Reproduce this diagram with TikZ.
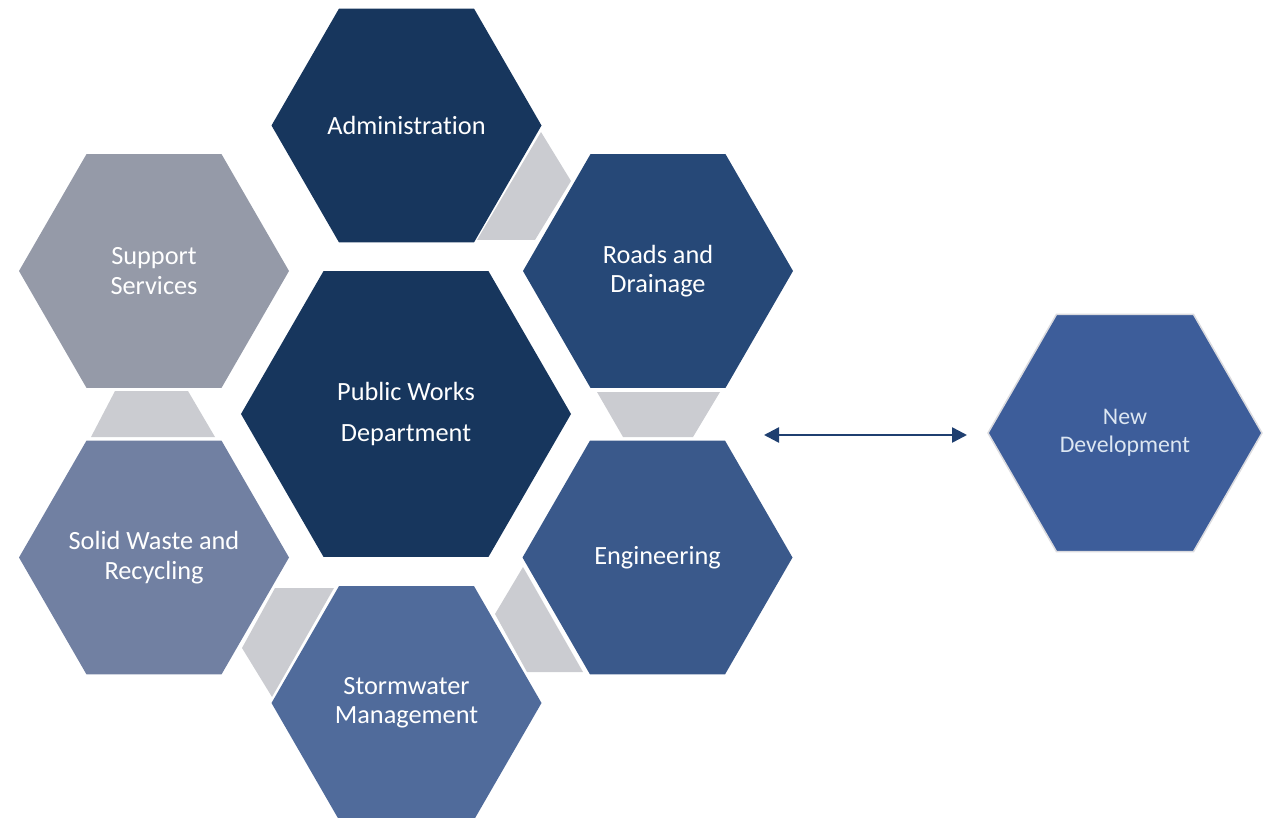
\documentclass[tikz,border=0pt]{standalone}
\usepackage{fontspec}
\setmainfont{Carlito}[Ligatures=NoCommon]
\usetikzlibrary{shapes.geometric,arrows.meta}
\definecolor{cNavy}{HTML}{17365D}
\definecolor{cRoads}{HTML}{264877}
\definecolor{cEng}{HTML}{3A598B}
\definecolor{cStorm}{HTML}{506B9B}
\definecolor{cSolid}{HTML}{7180A2}
\definecolor{cSupport}{HTML}{959AA8}
\definecolor{cNew}{HTML}{3D5D9A}
\definecolor{cGap}{HTML}{CBCCD1}
\definecolor{cArrow}{HTML}{1F3F70}
\definecolor{cNewText}{HTML}{DCE6F2}
\tikzset{
  hexa/.style={regular polygon, regular polygon sides=6, inner sep=0pt,
    minimum size=270pt},
  hextext/.style={text=white, align=center, inner sep=0pt,
    font=\fontsize{26.3}{29.3}\selectfont},
  gapfill/.style={fill=cGap},
  linkarrow/.style={draw=cArrow, line width=2.5pt,
    {Triangle[length=15pt,width=15pt]}-{Triangle[length=15pt,width=15pt]}}
}
\begin{document}
\begin{tikzpicture}[x=1pt,y=-1pt]
\useasboundingbox (0,0) rectangle (1266,818);
% gray joiners
\fill[gapfill] (541,132) -- (571,181) -- (535,240) -- (477,240) -- cycle;
\fill[gapfill] (597,392) -- (720,392) -- (693,437) -- (623,437) -- cycle;
\fill[gapfill] (115,391) -- (188,391) -- (215,437) -- (91,437) -- cycle;
\fill[gapfill] (275,588) -- (334,588) -- (272,697) -- (242,648) -- cycle;
\fill[gapfill] (523,567) -- (495,614) -- (527,672) -- (583,672) -- cycle;
% hexagons
\node[hexa, fill=cNavy] (admin) at (406.5,125.5) {};
\node[hexa, fill=cRoads] (roads) at (658,271) {};
\node[hexa, fill=cSupport] (support) at (154,271) {};
\node[hexa, fill=cNavy, minimum size=330pt] (pwd) at (406,414) {};
\node[hexa, fill=cSolid] (solid) at (154,557.5) {};
\node[hexa, fill=cEng] (eng) at (657.5,557.5) {};
\node[hexa, fill=cStorm] (storm) at (406.5,703) {};
\node[hexa, fill=cNew, draw=cGap!70!white, line width=1.5pt, minimum size=274pt] (newdev) at (1125,433) {};
% labels
\node[hextext] (adminT) at (admin.center) {Administration};
\node[hextext] (roadsT) at (roads.center) {Roads and\\Drainage};
\node[hextext] (supportT) at (support.center) {Support\\Services};
\node[hextext, font=\fontsize{26.3}{41}\selectfont] (pwdT) at (pwd.center) {Public Works\\Department};
\node[hextext] (solidT) at (solid.center) {Solid Waste and\\Recycling};
\node[hextext] (engT) at (eng.center) {Engineering};
\node[hextext] (stormT) at (storm.center) {Stormwater\\Management};
\node[hextext, text=cNewText, font=\fontsize{23.8}{28.3}\selectfont] (newdevT) at (newdev.center) {New\\Development};
% arrow
\coordinate (arrL) at (764,435);
\coordinate (arrR) at (967,435);
\draw[linkarrow] (arrL) -- (arrR);
\end{tikzpicture}
\end{document}
